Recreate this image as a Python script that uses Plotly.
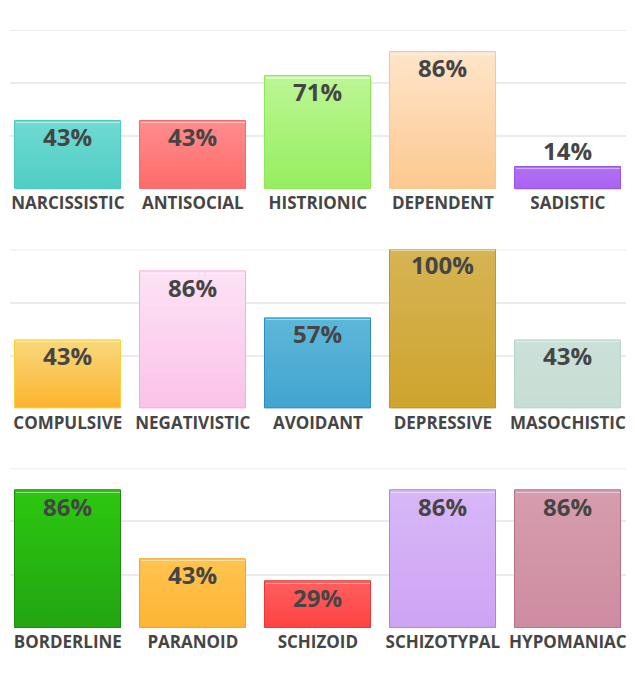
import plotly.graph_objects as go

# ---------------- data ----------------
row1_labels = ["NARCISSISTIC", "ANTISOCIAL", "HISTRIONIC", "DEPENDENT", "SADISTIC"]
row1_values = [43, 43, 71, 86, 14]
row2_labels = ["COMPULSIVE", "NEGATIVISTIC", "AVOIDANT", "DEPRESSIVE", "MASOCHISTIC"]
row2_values = [43, 86, 57, 100, 43]
row3_labels = ["BORDERLINE", "PARANOID", "SCHIZOID", "SCHIZOTYPAL", "HYPOMANIAC"]
row3_values = [86, 43, 29, 86, 86]

# ---------------- styles ----------------
row1_top = ["#70dad2", "#ff8c8c", "#bcf695", "#fee5c9", "#b170f2"]
row1_bottom = ["#4ecdc4", "#ff6b6b", "#96ee5e", "#fdc88f", "#a962ef"]
row1_border = ["#4ccbc2", "#f56a6a", "#8ee85a", "#fbc88c", "#9c55e8"]
row2_top = ["#f8d87d", "#fde2f4", "#5eb7d9", "#d6b453", "#cae0d8"]
row2_bottom = ["#fcb42d", "#fbc2ea", "#41a4cf", "#cfa42e", "#c8ded5"]
row2_border = ["#f8d23a", "#f7abde", "#2a8ec0", "#c29728", "#b7d6ca"]
row3_top = ["#2cc710", "#ffc450", "#ff5f5f", "#d8b7f8", "#d69dae"]
row3_bottom = ["#23a512", "#fdb434", "#ff4141", "#cda4f3", "#ce8ca1"]
row3_border = ["#1e8a10", "#f7a51c", "#e83838", "#b37eed", "#b8708a"]

rows = [
    (row1_labels, row1_values, row1_top, row1_bottom, row1_border),
    (row2_labels, row2_values, row2_top, row2_bottom, row2_border),
    (row3_labels, row3_values, row3_top, row3_bottom, row3_border),
]

DOMAINS = [[0.7335, 1.0], [0.3664, 0.6331], [0.0, 0.2672]]
BAR_W = 0.846
X_RANGE = [-0.4628, 4.4652]
N_SEG = 24
TXT = "#454545"
GRID = "#ebebeb"
OUTSIDE_BELOW = 20


def hex2rgb(h):
    h = h.lstrip("#")
    return tuple(int(h[i:i + 2], 16) for i in (0, 2, 4))


def mix(c1, c2, t):
    a, b = hex2rgb(c1), hex2rgb(c2)
    return "rgb({},{},{})".format(*[round(a[i] + (b[i] - a[i]) * t) for i in range(3)])


fig = go.Figure()
annotations = []
shapes = []
layout_axes = {}

for r, (labels, values, tops, bottoms, borders) in enumerate(rows):
    xa = "x" if r == 0 else f"x{r + 1}"
    ya = "y" if r == 0 else f"y{r + 1}"
    common = dict(x=labels, width=BAR_W, xaxis=xa, yaxis=ya,
                  showlegend=False, hoverinfo="skip")
    # solid base underneath (hides any seams between gradient segments)
    fig.add_bar(y=values, marker=dict(color=[mix(b, t, 0.5) for b, t in zip(bottoms, tops)],
                                      line=dict(width=0)), **common)
    # vertical gradient built from stacked slices of each bar
    for k in range(N_SEG):
        t = (k + 0.5) / N_SEG
        fig.add_bar(y=[v / N_SEG for v in values],
                    base=[v * k / N_SEG for v in values],
                    marker=dict(color=[mix(b, tp, t) for b, tp in zip(bottoms, tops)],
                                line=dict(width=0)),
                    **common)
    # thin light highlight just under the top edge
    fig.add_bar(x=labels, y=[0.7] * len(values), base=[v - 1.5 for v in values],
                width=BAR_W - 0.012, xaxis=xa, yaxis=ya, showlegend=False,
                hoverinfo="skip",
                marker=dict(color="rgba(255,255,255,0.45)", line=dict(width=0)))
    # outline
    fig.add_bar(y=values, marker=dict(color="rgba(0,0,0,0)",
                                      line=dict(color=borders, width=1)),
                hovertemplate="%{x}: %{y}%<extra></extra>",
                x=labels, width=BAR_W, xaxis=xa, yaxis=ya, showlegend=False)

    for lab, v in zip(labels, values):
        outside = v < OUTSIDE_BELOW
        annotations.append(dict(
            x=lab, y=v, xref=xa, yref=ya, text=f"{v}%", showarrow=False,
            yanchor="bottom" if outside else "top",
            yshift=-2 if outside else 3,
            font=dict(family="Open Sans", size=24, color=TXT, weight="bold"),
        ))

    # top gridline (plotly omits the grid line sitting on the range edge)
    shapes.append(dict(type="line", xref=f"{xa} domain", x0=0, x1=1,
                       yref=ya, y0=100, y1=100, layer="below",
                       line=dict(color=GRID, width=2)))

    xkey = "xaxis" if r == 0 else f"xaxis{r + 1}"
    ykey = "yaxis" if r == 0 else f"yaxis{r + 1}"
    layout_axes[xkey] = dict(
        domain=[0, 1], anchor=ya, type="category", range=X_RANGE,
        showgrid=False, showline=False, zeroline=False, ticks="", tickangle=0,
        ticklabelstandoff=2,
        tickfont=dict(family="Open Sans", size=17, color=TXT, weight="bold"),
        fixedrange=True,
    )
    layout_axes[ykey] = dict(
        domain=DOMAINS[r], anchor=xa, range=[0, 100],
        tickmode="array", tickvals=[0, 100 / 3, 200 / 3, 100],
        showticklabels=False, showgrid=True, gridcolor=GRID, gridwidth=2,
        zeroline=False, showline=False, ticks="", fixedrange=True,
    )

fig.update_layout(
    width=635, height=690,
    margin=dict(l=10, r=9, t=30, b=62.3, pad=0),
    paper_bgcolor="white", plot_bgcolor="white",
    barmode="overlay", bargap=0,
    annotations=annotations,
    shapes=shapes,
    font=dict(family="Open Sans", color=TXT),
    **layout_axes,
)

fig.write_html("out.html", config={"displayModeBar": False})
